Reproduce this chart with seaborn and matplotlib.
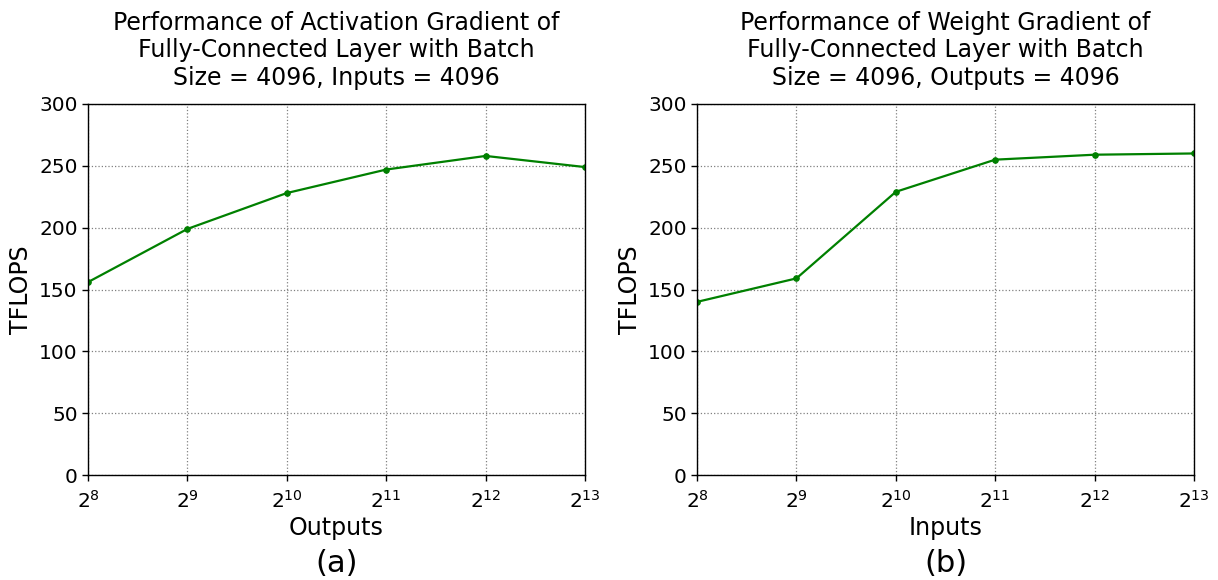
import numpy as np
import pandas as pd
import matplotlib
matplotlib.use("Agg")
import matplotlib.pyplot as plt
import seaborn as sns

# ==================== DATA ====================
sizes = [256, 512, 1024, 2048, 4096, 8192]
act_grad_tflops = [156, 199, 228, 247, 258, 249]
wgt_grad_tflops = [140, 159, 229, 255, 259, 260]

titles = ["Performance of Activation Gradient of\nFully-Connected Layer with Batch\nSize = 4096, Inputs = 4096",
          "Performance of Weight Gradient of\nFully-Connected Layer with Batch\nSize = 4096, Outputs = 4096"]
xlabels = ["Outputs", "Inputs"]
panel_tags = ["(a)", "(b)"]

sns.set_style("white")
plt.rcParams['font.family'] = ['DejaVu Sans']
plt.rcParams['text.color'] = 'black'
plt.rcParams['axes.labelcolor'] = 'black'
plt.rcParams['xtick.color'] = 'black'
plt.rcParams['ytick.color'] = 'black'

fig = plt.figure(figsize=(12.18, 5.8), dpi=100)
ax_a = fig.add_axes([0.0723, 0.181, 0.408, 0.6397])
ax_b = fig.add_axes([0.5723, 0.181, 0.408, 0.6397])

for ax, ys, title, xl, tag in zip([ax_a, ax_b], [act_grad_tflops, wgt_grad_tflops],
                                  titles, xlabels, panel_tags):
    df = pd.DataFrame({'size': sizes, 'tflops': ys})
    sns.lineplot(data=df, x='size', y='tflops', ax=ax, color='green',
                 marker='o', markersize=4, markeredgecolor='green', linewidth=1.6)
    ax.set_xscale('log', base=2)
    ax.set_xlim(sizes[0], sizes[-1])
    ax.set_ylim(0, 300)
    ax.set_xticks(sizes)
    ax.set_xticklabels([f"$2^{{{int(np.log2(s))}}}$" for s in sizes])
    ax.minorticks_off()
    ax.set_yticks(range(0, 301, 50))
    ax.grid(True, linestyle=':', color='gray', linewidth=0.9)
    ax.tick_params(labelsize=14.5, direction='out', length=4, width=1,
                   left=True, bottom=True)
    ax.tick_params(axis='x', pad=7)
    for sp in ax.spines.values():
        sp.set_color('black')
        sp.set_linewidth(1.0)
    ax.set_title(title, fontsize=17, pad=14, linespacing=1.18)
    ax.set_ylabel('TFLOPS', fontsize=17)
    ax.set_xlabel(xl, fontsize=17, labelpad=3)
    # panel tag under the axis label
    bb = ax.get_position()
    fig.text((bb.x0 + bb.x1) / 2, 1 - 563 / 580, tag, fontsize=22,
             ha='center', va='center')

fig.savefig('out.png', dpi=100)
